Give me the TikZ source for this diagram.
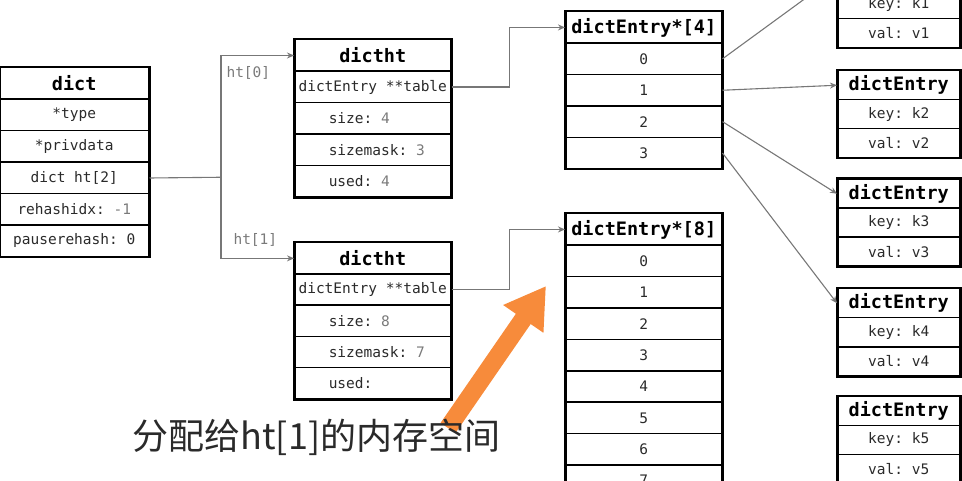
\documentclass[tikz,border=0pt]{standalone}
\usepackage{fontspec}
\setmonofont{DejaVu Sans Mono}
\newfontfamily\cjk{Noto Sans CJK SC}
\usetikzlibrary{arrows.meta}
\definecolor{valgray}{HTML}{7A7A7A}
\definecolor{txt}{HTML}{2A2A2A}
\definecolor{linegray}{HTML}{777777}
\definecolor{arrorange}{HTML}{F78B3B}
\begin{document}
\begin{tikzpicture}[x=1pt,y=-1pt,
  cell/.style={draw=black, line width=1.5pt, inner sep=0pt, anchor=north west,
    minimum height=#1, font=\ttfamily\fontsize{14.5}{16}\selectfont, text=txt},
  headcell/.style={cell=#1, font=\ttfamily\bfseries\fontsize{18.5}{20}\selectfont, text=black},
  frame/.style={draw=black, line width=2pt},
  conn/.style={draw=linegray, line width=1.1pt},
  arr/.style={conn, -{Stealth[length=7pt,width=6pt]}},
  lbl/.style={font=\ttfamily\fontsize{14.5}{16}\selectfont, text=valgray},
  bigarrow/.style={draw=arrorange, line width=18pt, -{Triangle[width=46pt,length=40pt]}},
  caption/.style={font=\cjk\fontsize{36}{40}\selectfont, text=txt, anchor=base west}
]
\useasboundingbox (0,0) rectangle (962,481);
\clip (0,0) rectangle (962,481);

% dict
\node[headcell=31.5pt, minimum width=149pt] (dict0) at (-1,67) {dict};
\node[cell=31.5pt, minimum width=149pt] (dict1) at (-1,98.5) {*type};
\node[cell=31.5pt, minimum width=149pt] (dict2) at (-1,130) {*privdata};
\node[cell=31.5pt, minimum width=149pt] (dict3) at (-1,161.5) {dict ht[2]};
\node[cell=31.5pt, minimum width=149pt] (dict4) at (-1,193) {rehashidx: \textcolor{valgray}{-1}};
\node[cell=31.5pt, minimum width=149pt] (dict5) at (-1,224.5) {pauserehash: 0};
\draw[frame] (dict0.north west) rectangle (dict5.south east);

% dictht ht[0]
\node[headcell=31.5pt, minimum width=156pt] (hA0) at (294,39) {dictht};
\node[cell=31.5pt, minimum width=156pt] (hA1) at (294,70.5) {dictEntry **table};
\node[cell=31.5pt, minimum width=156pt] (hA2) at (294,102) {\makebox[156pt][l]{\hspace{34pt}size: \textcolor{valgray}{4}}};
\node[cell=31.5pt, minimum width=156pt] (hA3) at (294,133.5) {\makebox[156pt][l]{\hspace{34pt}sizemask: \textcolor{valgray}{3}}};
\node[cell=31.5pt, minimum width=156pt] (hA4) at (294,165) {\makebox[156pt][l]{\hspace{34pt}used: \textcolor{valgray}{4}}};
\draw[frame] (hA0.north west) rectangle (hA4.south east);

% dictht ht[1]
\node[headcell=31.2pt, minimum width=156pt] (hB0) at (294,242) {dictht};
\node[cell=31.2pt, minimum width=156pt] (hB1) at (294,273.2) {dictEntry **table};
\node[cell=31.2pt, minimum width=156pt] (hB2) at (294,304.4) {\makebox[156pt][l]{\hspace{34pt}size: \textcolor{valgray}{8}}};
\node[cell=31.2pt, minimum width=156pt] (hB3) at (294,335.6) {\makebox[156pt][l]{\hspace{34pt}sizemask: \textcolor{valgray}{7}}};
\node[cell=31.2pt, minimum width=156pt] (hB4) at (294,366.8) {\makebox[156pt][l]{\hspace{34pt}used:}};
\draw[frame] (hB0.north west) rectangle (hB4.south east);

% dictEntry*[4]
\node[headcell=31.4pt, minimum width=156pt] (eA0) at (565,11) {dictEntry*[4]};
\node[cell=31.4pt, minimum width=156pt] (eA1) at (565,42.4) {0};
\node[cell=31.4pt, minimum width=156pt] (eA2) at (565,73.8) {1};
\node[cell=31.4pt, minimum width=156pt] (eA3) at (565,105.2) {2};
\node[cell=31.4pt, minimum width=156pt] (eA4) at (565,136.6) {3};
\draw[frame] (eA0.north west) rectangle (eA4.south east);

% dictEntry*[8]
\node[headcell=31.4pt, minimum width=156pt] (eB0) at (565,213) {dictEntry*[8]};
\node[cell=31.4pt, minimum width=156pt] (eB1) at (565,244.4) {0};
\node[cell=31.4pt, minimum width=156pt] (eB2) at (565,275.8) {1};
\node[cell=31.4pt, minimum width=156pt] (eB3) at (565,307.2) {2};
\node[cell=31.4pt, minimum width=156pt] (eB4) at (565,338.6) {3};
\node[cell=31.4pt, minimum width=156pt] (eB5) at (565,370) {4};
\node[cell=31.4pt, minimum width=156pt] (eB6) at (565,401.4) {5};
\node[cell=31.4pt, minimum width=156pt] (eB7) at (565,432.8) {6};
\node[cell=31.4pt, minimum width=156pt] (eB8) at (565,464.2) {7};
\draw[frame] (eB0.north west) rectangle (eB8.south east);

% dictEntry nodes
\node[headcell=29pt, minimum width=122pt] (k10) at (837,-40) {dictEntry};
\node[cell=29pt, minimum width=122pt] (k11) at (837,-11) {key: k1};
\node[cell=29pt, minimum width=122pt] (k12) at (837,18) {val: v1};
\draw[frame] (k10.north west) rectangle (k12.south east);

\node[headcell=29pt, minimum width=122pt] (k20) at (837,70) {dictEntry};
\node[cell=29pt, minimum width=122pt] (k21) at (837,99) {key: k2};
\node[cell=29pt, minimum width=122pt] (k22) at (837,128) {val: v2};
\draw[frame] (k20.north west) rectangle (k22.south east);

\node[headcell=29pt, minimum width=122pt] (k30) at (837,178.5) {dictEntry};
\node[cell=29pt, minimum width=122pt] (k31) at (837,207.5) {key: k3};
\node[cell=29pt, minimum width=122pt] (k32) at (837,236.5) {val: v3};
\draw[frame] (k30.north west) rectangle (k32.south east);

\node[headcell=29pt, minimum width=122pt] (k40) at (837,288) {dictEntry};
\node[cell=29pt, minimum width=122pt] (k41) at (837,317) {key: k4};
\node[cell=29pt, minimum width=122pt] (k42) at (837,346) {val: v4};
\draw[frame] (k40.north west) rectangle (k42.south east);

\node[headcell=29pt, minimum width=122pt] (k50) at (837,395.5) {dictEntry};
\node[cell=29pt, minimum width=122pt] (k51) at (837,424.5) {key: k5};
\node[cell=29pt, minimum width=122pt] (k52) at (837,453.5) {val: v5};
\draw[frame] (k50.north west) rectangle (k52.south east);

% connectors
\coordinate (jx) at (221,177.25);
\draw[conn] (dict3.east) -- (jx);
\draw[arr] (jx) |- (hA0.west);
\draw[arr] (jx) |- (hB0.west);
\node[lbl, anchor=west] (l0) at (223,73) {ht[0]};
\node[lbl, anchor=west] (l1) at (230,240) {ht[1]};

\draw[arr] (hA1.east) -- ++(58,0) |- (eA0.west);
\draw[arr] (hB1.east) -- ++(58,0) |- (eB0.west);

\draw[arr] (eA1.east) -- (k10.west);
\draw[arr] (eA2.east) -- (k20.west);
\draw[arr] (eA3.east) -- (k30.west);
\draw[arr] (eA4.east) -- (k40.west);

% annotation
\coordinate (tail) at (448,428);
\coordinate (tip) at (546,286);
\draw[bigarrow] (tail) -- (tip);
\node[caption] (cap) at (129,449) {分配给ht[1]的内存空间};
\end{tikzpicture}
\end{document}
